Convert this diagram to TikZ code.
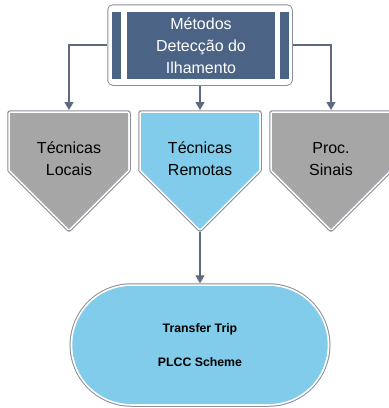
\documentclass[tikz,border=0pt]{standalone}
\usepackage{fontspec}
\setmainfont{Liberation Sans}
\usetikzlibrary{arrows.meta,shapes.misc}
\definecolor{azulescuro}{HTML}{4B6486}
\definecolor{cinza}{HTML}{A6A6A6}
\definecolor{azulclaro}{HTML}{80CCEA}
\definecolor{linha}{HTML}{5D6A80}
\definecolor{borda}{HTML}{8C8D9A}

\begin{document}
\begin{tikzpicture}[x=1pt, y=-1pt,
	moldura/.style = {preaction={draw=borda, line width=5.5pt, line join=round},
		preaction={draw=white, line width=3.5pt, line join=round}},
	seta/.style = {draw=linha, line width=1.3pt, -{Triangle[width=9pt,length=8pt]}},
	rotulo/.style = {align=center, font=\fontsize{16}{22}\selectfont}]
	\useasboundingbox (0,0) rectangle (389,408);
	% metodos
	\node [moldura, fill=white, rounded corners=3pt, minimum width=180pt, minimum height=76pt] (quadro) at (200,45) {};
	\fill [azulescuro] (111.5,12) rectangle (120.5,79);
	\fill [azulescuro] (280,12) rectangle (289,79);
	\node [rotulo, fill=azulescuro, text=white, minimum width=148pt, minimum height=67pt] (metodos) at (201,45.5) {Métodos\\Detecção do\\Ilhamento};
	% tecnicas
	\path [moldura, fill=cinza] (10,113) -- (128,113) -- (128,170) -- (69,229) -- (10,170) -- cycle;
	\path [moldura, fill=azulclaro] (141,113) -- (259,113) -- (259,170) -- (200,229) -- (141,170) -- cycle;
	\path [moldura, fill=cinza] (272,113) -- (390,113) -- (390,170) -- (331,229) -- (272,170) -- cycle;
	\node [rotulo] (locais) at (69,159) {Técnicas\\Locais};
	\node [rotulo] (remotas) at (200,159) {Técnicas\\Remotas};
	\node [rotulo] (sinais) at (331,159) {Proc.\\Sinais};
	\coordinate (topo1) at (69,110);
	\coordinate (topo2) at (200,110);
	\coordinate (topo3) at (331,110);
	\coordinate (ponta) at (200,232);
	% plcc
	\node [moldura, rounded rectangle, fill=azulclaro, minimum width=262pt, minimum height=118pt, align=center, font=\bfseries\fontsize{12.3}{14}\selectfont] (plcc) at (200,345) {Transfer Trip\\[20pt]PLCC Scheme};
	\draw [seta, shorten <=2.75pt] (quadro.west) -| (topo1);
	\draw [seta, shorten <=2.75pt] (quadro.east) -| (topo3);
	\draw [seta, shorten <=2.75pt] (quadro.south) -- (topo2);
	\draw [seta, shorten >=2.5pt] (ponta) -- (plcc.north);
\end{tikzpicture}
\end{document}
